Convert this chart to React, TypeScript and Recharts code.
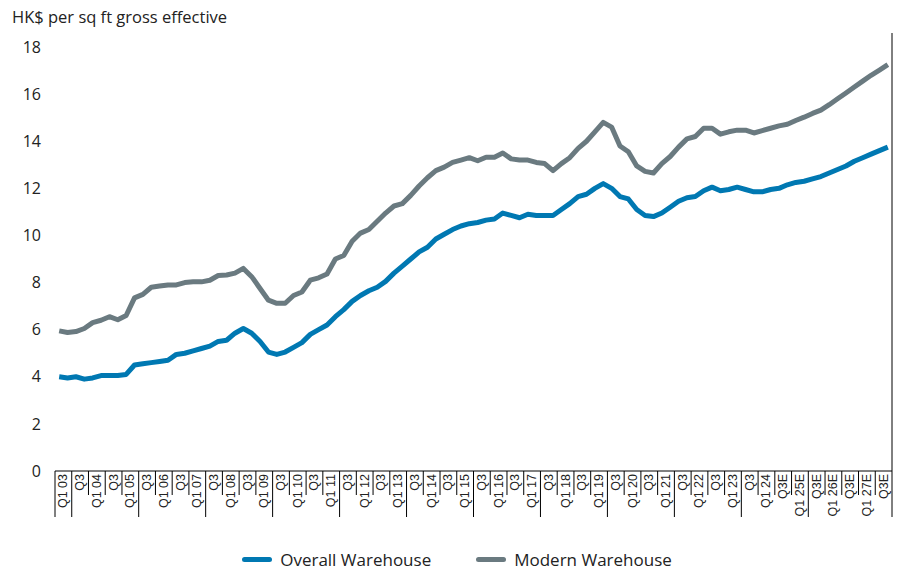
import React from 'react';
import { LineChart, Line, XAxis, YAxis } from 'recharts';

// quarterly, Q1 2003 .. Q4 2027 (2024 Q3 onwards are estimates)
const overallWarehouse = [
  4.0, 3.95, 4.0, 3.9,
  3.95, 4.05, 4.05, 4.05,
  4.1, 4.5, 4.55, 4.6,
  4.65, 4.7, 4.95, 5.0,
  5.1, 5.2, 5.3, 5.5,
  5.55, 5.85, 6.05, 5.85,
  5.5, 5.05, 4.95, 5.05,
  5.25, 5.45, 5.8, 6.0,
  6.2, 6.55, 6.85, 7.2,
  7.45, 7.65, 7.8, 8.05,
  8.4, 8.7, 9.0, 9.3,
  9.5, 9.85, 10.05, 10.25,
  10.4, 10.5, 10.55, 10.65,
  10.7, 10.95, 10.85, 10.75,
  10.9, 10.85, 10.85, 10.85,
  11.1, 11.35, 11.65, 11.75,
  12.0, 12.2, 12.0, 11.65,
  11.55, 11.1, 10.85, 10.8,
  10.95, 11.2, 11.45, 11.6,
  11.65, 11.9, 12.05, 11.9,
  11.95, 12.05, 11.95, 11.85,
  11.85, 11.95, 12.0, 12.15,
  12.25, 12.3, 12.4, 12.5,
  12.65, 12.8, 12.95, 13.15,
  13.3, 13.45, 13.6, 13.75,
];

const modernWarehouse = [
  5.95, 5.88, 5.92, 6.05,
  6.3, 6.4, 6.55, 6.42,
  6.6, 7.35, 7.5, 7.8,
  7.85, 7.9, 7.9, 8.0,
  8.03, 8.03, 8.1, 8.3,
  8.32, 8.4, 8.6, 8.25,
  7.75, 7.25, 7.12, 7.12,
  7.45, 7.6, 8.1, 8.2,
  8.36, 9.0, 9.15, 9.75,
  10.1, 10.25, 10.6, 10.95,
  11.25, 11.35, 11.7, 12.1,
  12.45, 12.75, 12.9, 13.1,
  13.2, 13.3, 13.17, 13.32,
  13.32, 13.5, 13.25, 13.2,
  13.2, 13.1, 13.05, 12.75,
  13.05, 13.3, 13.7, 14.0,
  14.4, 14.8, 14.6, 13.8,
  13.55, 12.95, 12.72, 12.65,
  13.05, 13.35, 13.75, 14.1,
  14.2, 14.55, 14.55, 14.3,
  14.4, 14.47, 14.47, 14.35,
  14.45, 14.55, 14.65, 14.72,
  14.88, 15.02, 15.18, 15.32,
  15.55, 15.8, 16.05, 16.3,
  16.55, 16.8, 17.02, 17.25,
];

// one label per half year
const halfYearLabels = [
  'Q1 03', 'Q3', 'Q1 04', 'Q3', 'Q1 05', 'Q3', 'Q1 06', 'Q3', 'Q1 07', 'Q3',
  'Q1 08', 'Q3', 'Q1 09', 'Q3', 'Q1 10', 'Q3', 'Q1 11', 'Q3', 'Q1 12', 'Q3',
  'Q1 13', 'Q3', 'Q1 14', 'Q3', 'Q1 15', 'Q3', 'Q1 16', 'Q3', 'Q1 17', 'Q3',
  'Q1 18', 'Q3', 'Q1 19', 'Q3', 'Q1 20', 'Q3', 'Q1 21', 'Q3', 'Q1 22', 'Q3',
  'Q1 23', 'Q3', 'Q1 24', 'Q3E', 'Q1 25E', 'Q3E', 'Q1 26E', 'Q3E', 'Q1 27E', 'Q3E',
];

const yTicks = [0, 2, 4, 6, 8, 10, 12, 14, 16, 18];

const BLUE = '#0078b2';
const GRAY = '#6a7a80';
const TEXT = '#222';
const FONT = "'Open Sans', Lato, sans-serif";

const data = overallWarehouse.map((v, i) => ({
  i,
  overall: v,
  modern: modernWarehouse[i],
}));

// boundaries between half years sit on -0.5, 1.5, 3.5 ..., label centres on 0.5, 2.5 ...
const xTicks = Array.from({ length: overallWarehouse.length + 1 }, (_, j) => j - 0.5);

const QuarterTick = (props: any) => {
  const { x, y, payload } = props;
  const j = Math.round(payload.value + 0.5);
  const last = overallWarehouse.length;
  if (j % 2 === 0) {
    const long = j === 0 || j === last || (j % 8 === 2 && j < last - 2);
    const top = j === last ? y - 438 : y;
    return <line x1={x} x2={x} y1={top} y2={y + (long ? 46 : 24)} stroke="#000" strokeWidth={1} />;
  }
  const label = halfYearLabels[(j - 1) / 2];
  return (
    <text
      x={x}
      y={y + 3}
      transform={`rotate(-90, ${x}, ${y + 3})`}
      textAnchor="end"
      dominantBaseline="central"
      fontSize={12.5}
      fontFamily="'Liberation Sans', Arial, sans-serif"
      fill={TEXT}
    >
      {label}
    </text>
  );
};

const LegendItem = ({ color, text }: { color: string; text: string }) => (
  <div style={{ display: 'flex', alignItems: 'center', gap: 8 }}>
    <div style={{ width: 30, height: 5, borderRadius: 2.5, background: color }} />
    <span>{text}</span>
  </div>
);

export default function App() {
  return (
    <div style={{ position: 'absolute', left: 0, top: 0, width: 901, height: 571, background: '#fff', fontFamily: FONT }}>
      <div style={{ position: 'absolute', left: 12, top: 5, fontSize: 16.5, color: TEXT }}>
        HK$ per sq ft gross effective
      </div>
      <LineChart width={901} height={571} data={data} margin={{ top: 47, right: 9, left: 0, bottom: 0 }}>
        <XAxis
          dataKey="i"
          type="number"
          domain={[-0.5, overallWarehouse.length - 0.5]}
          ticks={xTicks}
          interval={0}
          tick={<QuarterTick />}
          tickLine={false}
          tickSize={0}
          tickMargin={0}
          axisLine={{ stroke: '#000', strokeWidth: 1 }}
          height={100}
        />
        <YAxis
          domain={[0, 18]}
          ticks={yTicks}
          width={55}
          axisLine={false}
          tickLine={false}
          tickMargin={8}
          tick={{ fontSize: 16, fill: TEXT, fontFamily: FONT }}
        />
        <Line
          dataKey="overall"
          name="Overall Warehouse"
          stroke={BLUE}
          strokeWidth={5}
          dot={false}
          type="linear"
          strokeLinejoin="round"
          isAnimationActive={false}
        />
        <Line
          dataKey="modern"
          name="Modern Warehouse"
          stroke={GRAY}
          strokeWidth={5}
          dot={false}
          type="linear"
          strokeLinejoin="round"
          isAnimationActive={false}
        />
      </LineChart>
      <div
        style={{
          position: 'absolute',
          left: 0,
          width: 914,
          top: 548,
          display: 'flex',
          justifyContent: 'center',
          gap: 45,
          fontSize: 17,
          color: TEXT,
        }}
      >
        <LegendItem color={BLUE} text="Overall Warehouse" />
        <LegendItem color={GRAY} text="Modern Warehouse" />
      </div>
    </div>
  );
}
